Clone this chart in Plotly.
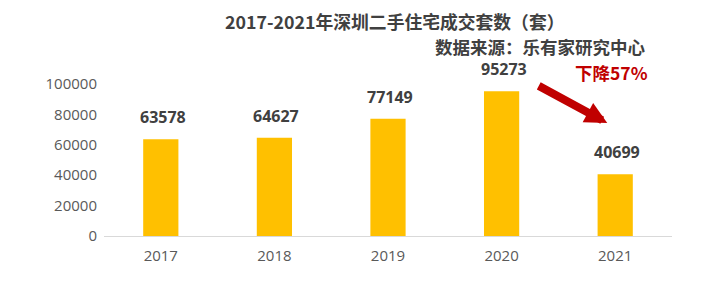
import plotly.graph_objects as go

years = ["2017", "2018", "2019", "2020", "2021"]
values = [63578, 64627, 77149, 95273, 40699]
y_ticks = [0, 20000, 40000, 60000, 80000, 100000]
title_text = "2017-2021年深圳二手住宅成交套数（套）"
source_text = "数据来源：乐有家研究中心"
drop_text = "下降57%"

FONT = "Open Sans, Noto Sans CJK SC, sans-serif"
CJK = "Noto Sans CJK SC, Open Sans, sans-serif"

W, H = 716, 284
L, R, T, B = 104, 44, 84, 48
PW, PH = W - L - R, H - T - B


def px(x):
    return (x - L) / PW


def py(y):
    return (H - B - y) / PH


xpos = list(range(len(years)))

fig = go.Figure()
fig.add_trace(go.Bar(
    x=xpos, y=values,
    marker=dict(color="#FFC000", line=dict(width=0)),
    width=0.31,
    hoverinfo="skip",
    cliponaxis=False,
))

annotations = []
for i, v in zip(xpos, values):
    annotations.append(dict(
        x=i, y=v, xref="x", yref="y", text=str(v), showarrow=False,
        yanchor="bottom", yshift=9, xshift=2,
        font=dict(family=FONT, size=16, color="#404040", weight="bold"),
    ))

annotations.append(dict(
    x=px(394), y=py(21), xref="paper", yref="paper", text=title_text,
    showarrow=False, xanchor="center", yanchor="middle",
    font=dict(family=CJK, size=17.8, color="#404040", weight="bold"),
))
annotations.append(dict(
    x=px(647), y=py(46), xref="paper", yref="paper", text=source_text,
    showarrow=False, xanchor="right", yanchor="middle",
    font=dict(family=CJK, size=17.5, color="#404040", weight="bold"),
))
annotations.append(dict(
    x=px(611), y=py(73), xref="paper", yref="paper", text=drop_text,
    showarrow=False, xanchor="center", yanchor="middle",
    font=dict(family=CJK, size=17.5, color="#C00000", weight="bold"),
))
annotations.append(dict(
    x=3.93, y=74300, xref="x", yref="y", text="", showarrow=True,
    ax=-70, ay=-38, arrowhead=2, arrowsize=0.55, arrowwidth=8,
    arrowcolor="#C00000",
))

fig.update_layout(
    width=W, height=H,
    margin=dict(l=L, r=R, t=T, b=B, autoexpand=False),
    paper_bgcolor="white", plot_bgcolor="white",
    showlegend=False,
    annotations=annotations,
    xaxis=dict(
        range=[-0.5, len(years) - 0.5], tickvals=xpos, ticktext=years,
        showgrid=False, zeroline=False,
        showline=True, linecolor="#D9D9D9", linewidth=1,
        ticks="", ticklabelstandoff=6,
        tickfont=dict(family=FONT, size=15, color="#595959"),
    ),
    yaxis=dict(
        range=[0, 100000], tickvals=y_ticks, tickformat="d",
        showgrid=False, zeroline=False,
        showline=False, ticks="", ticklabelstandoff=6,
        tickfont=dict(family=FONT, size=15, color="#595959"),
    ),
)

fig.write_html("out.html")
